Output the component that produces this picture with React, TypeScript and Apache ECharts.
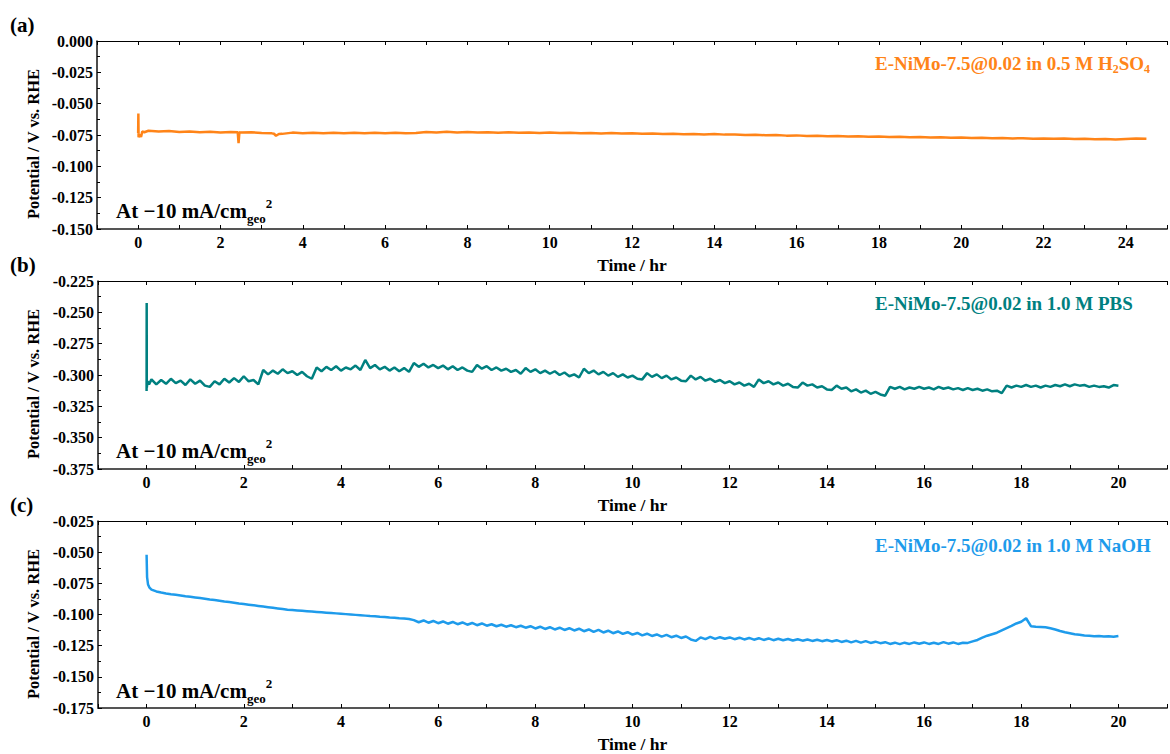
import React, { useEffect, useRef } from "react";
import * as echarts from "echarts";

// ---------- data ----------
// Panel (a): E-NiMo-7.5@0.02 in 0.5 M H2SO4, time in hr, potential in V vs RHE
const A_HEAD: number[][] = [
  [0, -0.0735], [0.005, -0.0578], [0.01, -0.0768], [0.04, -0.0745], [0.07, -0.0765], [0.1, -0.0722], [0.15, -0.0728],
];
const A_SPIKES: number[][] = [
  [2.42, -0.0729], [2.44, -0.0815], [2.46, -0.0727], [3.3, -0.0740], [3.35, -0.0756], [3.42, -0.0742],
];
const A_T0 = 0.25;
const A_STEP = 0.25;
const A_VALUES = [
  -0.0716, -0.0722, -0.0719, -0.0726, -0.0722, -0.0728, -0.0724, -0.0730, -0.0726, -0.0731,
  -0.0728, -0.0734, -0.0737, -0.0741, -0.0731, -0.0736, -0.0732, -0.0737, -0.0733, -0.0736,
  -0.0732, -0.0737, -0.0733, -0.0736, -0.0732, -0.0736, -0.0734, -0.0726, -0.0730, -0.0725,
  -0.0730, -0.0727, -0.0731, -0.0728, -0.0732, -0.0729, -0.0733, -0.0730, -0.0734, -0.0731,
  -0.0735, -0.0732, -0.0736, -0.0734, -0.0738, -0.0735, -0.0739, -0.0737, -0.0741, -0.0738,
  -0.0742, -0.0740, -0.0744, -0.0742, -0.0746, -0.0743, -0.0747, -0.0746, -0.0750, -0.0748,
  -0.0752, -0.0750, -0.0755, -0.0753, -0.0757, -0.0755, -0.0759, -0.0757, -0.0761, -0.0760,
  -0.0764, -0.0762, -0.0766, -0.0764, -0.0768, -0.0766, -0.0770, -0.0768, -0.0771, -0.0769,
  -0.0773, -0.0771, -0.0775, -0.0773, -0.0777, -0.0775, -0.0779, -0.0777, -0.0780, -0.0778,
  -0.0782, -0.0780, -0.0784, -0.0782, -0.0785, -0.0781, -0.0777, -0.0779,
];

// Panel (b): E-NiMo-7.5@0.02 in 1.0 M PBS
const B_HEAD: number[][] = [
  [0, -0.3128], [0.002, -0.2425], [0.004, -0.3100], [0.02, -0.3050], [0.05, -0.3075],
];
const B_T0 = 0.1;
const B_STEP = 0.1;
const B_VALUES = [
  -0.3035, -0.3075, -0.3040, -0.3070, -0.3030, -0.3065, -0.3045, -0.3080, -0.3035, -0.3070,
  -0.3045, -0.3085, -0.3095, -0.3050, -0.3075, -0.3030, -0.3060, -0.3025, -0.3055, -0.3010,
  -0.3050, -0.3040, -0.3075, -0.2960, -0.2995, -0.2965, -0.2990, -0.2955, -0.2985, -0.2970,
  -0.3000, -0.2975, -0.3010, -0.3030, -0.2940, -0.2970, -0.2935, -0.2960, -0.2930, -0.2965,
  -0.2940, -0.2955, -0.2925, -0.2960, -0.2880, -0.2945, -0.2920, -0.2955, -0.2935, -0.2965,
  -0.2940, -0.2970, -0.2945, -0.2975, -0.2905, -0.2935, -0.2910, -0.2940, -0.2920, -0.2945,
  -0.2925, -0.2955, -0.2930, -0.2960, -0.2940, -0.2965, -0.2975, -0.2920, -0.2950, -0.2930,
  -0.2960, -0.2940, -0.2965, -0.2950, -0.2975, -0.2960, -0.2990, -0.2945, -0.2975, -0.2955,
  -0.2985, -0.2965, -0.2990, -0.2970, -0.3000, -0.2980, -0.3010, -0.2995, -0.3020, -0.2950,
  -0.2985, -0.2965, -0.2995, -0.2975, -0.3005, -0.2985, -0.3015, -0.2995, -0.3020, -0.3005,
  -0.3030, -0.3035, -0.2985, -0.3015, -0.2995, -0.3025, -0.3005, -0.3035, -0.3020, -0.3045,
  -0.3050, -0.3005, -0.3035, -0.3015, -0.3045, -0.3030, -0.3055, -0.3040, -0.3065, -0.3050,
  -0.3075, -0.3060, -0.3085, -0.3070, -0.3095, -0.3035, -0.3065, -0.3050, -0.3075, -0.3060,
  -0.3085, -0.3070, -0.3095, -0.3100, -0.3060, -0.3085, -0.3075, -0.3100, -0.3090, -0.3115,
  -0.3120, -0.3085, -0.3110, -0.3100, -0.3130, -0.3115, -0.3140, -0.3125, -0.3150, -0.3135,
  -0.3155, -0.3165, -0.3095, -0.3110, -0.3095, -0.3115, -0.3100, -0.3110, -0.3095, -0.3110,
  -0.3100, -0.3115, -0.3095, -0.3110, -0.3100, -0.3115, -0.3105, -0.3120, -0.3105, -0.3120,
  -0.3110, -0.3125, -0.3115, -0.3130, -0.3125, -0.3145, -0.3085, -0.3100, -0.3085, -0.3095,
  -0.3080, -0.3095, -0.3085, -0.3100, -0.3085, -0.3095, -0.3080, -0.3090, -0.3075, -0.3090,
  -0.3075, -0.3085, -0.3080, -0.3095, -0.3085, -0.3095, -0.3090, -0.3100, -0.3080, -0.3085,
];

// Panel (c): E-NiMo-7.5@0.02 in 1.0 M NaOH
const C_HEAD: number[][] = [
  [0, -0.0521], [0.01, -0.0700], [0.03, -0.0760], [0.06, -0.0785],
];
const C_T0 = 0.1;
const C_STEP = 0.1;
const C_VALUES = [
  -0.0800, -0.0815, -0.0824, -0.0831, -0.0837, -0.0842, -0.0847, -0.0853, -0.0858, -0.0863,
  -0.0868, -0.0873, -0.0879, -0.0884, -0.0889, -0.0895, -0.0900, -0.0905, -0.0911, -0.0916,
  -0.0921, -0.0926, -0.0931, -0.0936, -0.0941, -0.0946, -0.0951, -0.0956, -0.0961, -0.0964,
  -0.0967, -0.0970, -0.0973, -0.0976, -0.0979, -0.0982, -0.0985, -0.0988, -0.0991, -0.0994,
  -0.0997, -0.1000, -0.1003, -0.1006, -0.1009, -0.1012, -0.1014, -0.1018, -0.1020, -0.1024,
  -0.1026, -0.1030, -0.1032, -0.1036, -0.1045, -0.1062, -0.1048, -0.1066, -0.1052, -0.1070,
  -0.1056, -0.1074, -0.1060, -0.1078, -0.1064, -0.1082, -0.1068, -0.1086, -0.1072, -0.1090,
  -0.1078, -0.1094, -0.1082, -0.1098, -0.1086, -0.1102, -0.1090, -0.1106, -0.1094, -0.1112,
  -0.1098, -0.1116, -0.1102, -0.1120, -0.1106, -0.1124, -0.1110, -0.1128, -0.1114, -0.1134,
  -0.1120, -0.1140, -0.1124, -0.1144, -0.1130, -0.1150, -0.1136, -0.1156, -0.1142, -0.1162,
  -0.1148, -0.1168, -0.1154, -0.1172, -0.1160, -0.1178, -0.1164, -0.1182, -0.1170, -0.1188,
  -0.1176, -0.1200, -0.1212, -0.1184, -0.1198, -0.1180, -0.1196, -0.1182, -0.1194, -0.1184,
  -0.1198, -0.1186, -0.1200, -0.1188, -0.1202, -0.1190, -0.1204, -0.1192, -0.1206, -0.1194,
  -0.1206, -0.1196, -0.1208, -0.1198, -0.1210, -0.1200, -0.1212, -0.1202, -0.1214, -0.1204,
  -0.1216, -0.1206, -0.1220, -0.1210, -0.1224, -0.1212, -0.1226, -0.1214, -0.1228, -0.1218,
  -0.1230, -0.1222, -0.1236, -0.1226, -0.1238, -0.1226, -0.1236, -0.1224, -0.1234, -0.1224,
  -0.1236, -0.1226, -0.1236, -0.1222, -0.1234, -0.1224, -0.1236, -0.1226, -0.1228, -0.1216,
  -0.1204, -0.1186, -0.1170, -0.1158, -0.1146, -0.1128, -0.1110, -0.1092, -0.1072, -0.1058,
  -0.1030, -0.1094, -0.1098, -0.1100, -0.1102, -0.1110, -0.1120, -0.1132, -0.1142, -0.1150,
  -0.1158, -0.1162, -0.1168, -0.1170, -0.1174, -0.1172, -0.1176, -0.1174, -0.1178, -0.1172,
];

// axis ranges and labels
const Y_RANGES = [
  [-0.15, 0.0],
  [-0.375, -0.225],
  [-0.175, -0.025],
];
const X_RANGES = [
  [-1, 25],
  [-1, 21],
  [-1, 21],
];
const Y_INTERVAL = 0.025;
const X_INTERVAL = 1;
const PANEL_LETTERS = ["(a)", "(b)", "(c)"];
const SERIES_NAMES = ["0.5 M H2SO4", "1.0 M PBS", "1.0 M NaOH"];
const COLORS = ["#FF8418", "#008080", "#1E9BEB"];
const Y_NAME = "Potential / V vs. RHE";
const X_NAME = "Time / hr";

const FONT = "'Times New Roman', 'Liberation Serif', serif";

function build(head: number[][], t0: number, step: number, values: number[], extra: number[][] = []) {
  const pts = values.map((v, i) => [Math.round((t0 + i * step) * 1000) / 1000, v]);
  return [...head, ...pts, ...extra].sort((p, q) => p[0] - q[0]);
}

export default function App() {
  const ref = useRef<HTMLDivElement>(null);

  useEffect(() => {
    if (!ref.current) return;
    const chart = echarts.init(ref.current, undefined, { renderer: "svg" });

    const data = [
      build(A_HEAD, A_T0, A_STEP, A_VALUES, A_SPIKES),
      build(B_HEAD, B_T0, B_STEP, B_VALUES),
      build(C_HEAD, C_T0, C_STEP, C_VALUES),
    ];

    const grids = [
      { left: 97, top: 41, width: 1083, height: 188 },
      { left: 98, top: 281, width: 1082, height: 188 },
      { left: 98, top: 521, width: 1082, height: 188 },
    ];

    const xAxes: any[] = [];
    const yAxes: any[] = [];
    const series: any[] = [];
    const graphics: any[] = [];

    const labelStyle = { fontFamily: FONT, fontWeight: "bold", fontSize: 16, color: "#000" };

    grids.forEach((g, i) => {
      xAxes.push({
        type: "value",
        gridIndex: i,
        position: "bottom",
        min: X_RANGES[i][0],
        max: X_RANGES[i][1],
        interval: X_INTERVAL,
        splitLine: { show: false },
        axisLine: { show: true, onZero: false, lineStyle: { color: "#555", width: 2 } },
        axisTick: { show: true, inside: true, length: 4, lineStyle: { color: "#000", width: 1 } },
        axisLabel: {
          ...labelStyle,
          margin: 5,
          formatter: (v: number) => (v >= 0 && Math.abs(v % 2) < 1e-9 ? String(v) : ""),
        },
        name: X_NAME,
        nameLocation: "middle",
        nameGap: 27,
        nameTextStyle: { fontFamily: FONT, fontWeight: "bold", fontSize: 17.5, color: "#000" },
      });
      xAxes.push({
        type: "value",
        gridIndex: i,
        position: "top",
        min: X_RANGES[i][0],
        max: X_RANGES[i][1],
        interval: X_INTERVAL,
        splitLine: { show: false },
        axisLine: { show: true, onZero: false, lineStyle: { color: "#000", width: 1 } },
        axisTick: { show: true, inside: true, length: 4, lineStyle: { color: "#000", width: 1 } },
        axisLabel: { show: false },
      });
      yAxes.push({
        type: "value",
        gridIndex: i,
        min: Y_RANGES[i][0],
        max: Y_RANGES[i][1],
        interval: Y_INTERVAL,
        splitLine: { show: false },
        axisLine: { show: true, onZero: false, lineStyle: { color: "#111", width: 1.5 } },
        axisTick: { show: true, inside: true, length: 4, lineStyle: { color: "#000", width: 1 } },
        minorTick: { show: true, splitNumber: 2, length: 3, lineStyle: { color: "#000", width: 1 } },
        axisLabel: { ...labelStyle, margin: 4, formatter: (v: number) => v.toFixed(3) },
      });
      series.push({
        type: "line",
        name: SERIES_NAMES[i],
        xAxisIndex: i * 2,
        yAxisIndex: i,
        data: data[i],
        showSymbol: false,
        symbol: "none",
        lineStyle: { color: COLORS[i], width: 2.5 },
        clip: true,
      });

      // panel letter
      graphics.push({
        type: "text",
        x: 10,
        y: g.top - 16,
        style: {
          text: PANEL_LETTERS[i],
          fill: "#000",
          font: `bold 21px ${FONT}`,
          align: "left",
          verticalAlign: "middle",
        },
      });
      // y axis name
      graphics.push({
        type: "text",
        x: 33,
        y: g.top + g.height / 2 + 9,
        rotation: Math.PI / 2,
        style: {
          text: Y_NAME,
          fill: "#000",
          font: `bold 16.5px ${FONT}`,
          align: "center",
          verticalAlign: "middle",
        },
      });
      // current density note
      graphics.push({
        type: "text",
        x: 116,
        y: g.top + g.height - 18,
        style: {
          text: "{m|At \u221210 mA/cm}{sub|geo}{sup|2}",
          fill: "#000",
          align: "left",
          verticalAlign: "middle",
          rich: {
            m: { fontFamily: FONT, fontWeight: "bold", fontSize: 21, lineHeight: 28, verticalAlign: "middle", fill: "#000" },
            sub: { fontFamily: FONT, fontWeight: "bold", fontSize: 13, lineHeight: 13, verticalAlign: "bottom", fill: "#000" },
            sup: { fontFamily: FONT, fontWeight: "bold", fontSize: 13, lineHeight: 13, verticalAlign: "top", fill: "#000" },
          },
        },
      });
    });

    // series annotations
    const annot = [
      "{m|E-NiMo-7.5@0.02 in 0.5 M H}{s|2}{m|SO}{s|4}",
      "{m|E-NiMo-7.5@0.02 in 1.0 M PBS}",
      "{m|E-NiMo-7.5@0.02 in 1.0 M NaOH}",
    ];
    const annotY = [63, 303, 545];
    annot.forEach((t, i) => {
      graphics.push({
        type: "text",
        x: 875,
        y: annotY[i],
        style: {
          text: t,
          align: "left",
          verticalAlign: "middle",
          rich: {
            m: { fontFamily: FONT, fontWeight: "bold", fontSize: 19, lineHeight: 24, verticalAlign: "middle", fill: COLORS[i] },
            s: { fontFamily: FONT, fontWeight: "bold", fontSize: 12, lineHeight: 12, verticalAlign: "bottom", fill: COLORS[i] },
          },
        },
      });
    });

    chart.setOption({
      animation: false,
      backgroundColor: "#fff",
      grid: grids,
      xAxis: xAxes,
      yAxis: yAxes,
      series,
      graphic: graphics,
    });

    return () => chart.dispose();
  }, []);

  return (
    <div
      ref={ref}
      style={{ position: "absolute", left: 0, top: 0, width: 1170, height: 754, background: "#fff" }}
    />
  );
}
